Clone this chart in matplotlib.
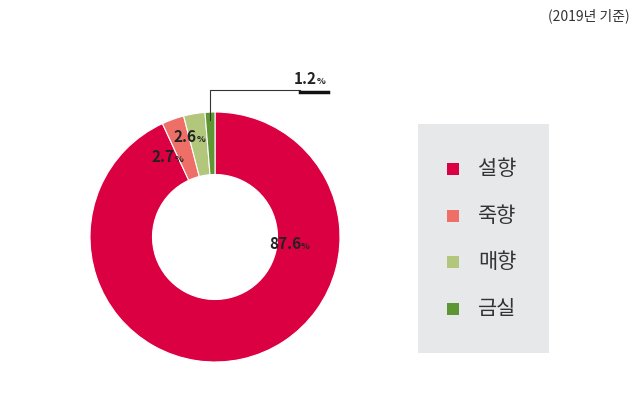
import matplotlib
matplotlib.use("Agg")
import matplotlib.pyplot as plt
from matplotlib.lines import Line2D
from matplotlib.patches import Rectangle

plt.rcParams['font.family'] = ['Noto Sans CJK KR', 'DejaVu Sans']

categories = ['설향', '죽향', '매향', '금실']
values = [87.6, 2.7, 2.6, 1.2]
value_labels = ['87.6', '2.7', '2.6', '1.2']
colors = ['#DB0042', '#EE6F68', '#B2C77B', '#5F9634']

W, H = 639, 409
fig = plt.figure(figsize=(W/100, H/100), dpi=100)
def fx(x): return x / W
def fy(y): return 1 - y / H

ax = fig.add_axes([fx(90), fy(362), 250/W, 250/H])
ax.pie(values, colors=colors, startangle=90, counterclock=False, radius=1,
       wedgeprops=dict(width=0.5, edgecolor='white', linewidth=0.8))
ax.set_xlim(-1, 1); ax.set_ylim(-1, 1); ax.set_aspect('equal'); ax.axis('off')

def pct_label(x, y, num, size=11):
    t = fig.text(fx(x), fy(y), num, fontsize=size, fontweight='bold', ha='right', va='baseline', color='#222222')
    fig.text(fx(x), fy(y), '%', fontsize=size*0.6, fontweight='bold', ha='left', va='baseline', color='#222222')

pct_label(301, 249, value_labels[0])
pct_label(175, 162, value_labels[1])
pct_label(197, 142, value_labels[2])
pct_label(317, 84, value_labels[3])

# leader line for 1.2%
fig.add_artist(Line2D([fx(210), fx(210), fx(300)], [fy(120), fy(90), fy(90)], color='#333333', lw=0.8))
fig.add_artist(Line2D([fx(300), fx(328)], [fy(92), fy(92)], color='#111111', lw=2.5))

# legend box
fig.add_artist(Rectangle((fx(418), fy(353)), 131/W, 229/H, transform=fig.transFigure,
                         facecolor='#E6E8EA', edgecolor='none'))
ys = [169, 216, 262, 309]
for c, lab, y in zip(colors, categories, ys):
    fig.add_artist(Rectangle((fx(447), fy(y+6)), 12/W, 12/H, transform=fig.transFigure,
                             facecolor=c, edgecolor='none'))
    fig.text(fx(478), fy(y), lab, fontsize=15, va='center', ha='left', color='#333333')

fig.text(fx(630), fy(16), '(2019년 기준)', fontsize=10, ha='right', va='center', color='#333333')

fig.savefig('out.png', dpi=100)
